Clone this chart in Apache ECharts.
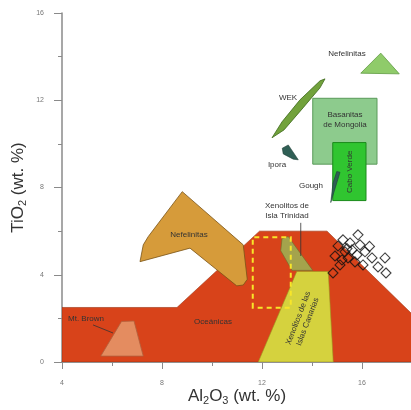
<!DOCTYPE html>
<html><head><meta charset="utf-8">
<script src="https://cdn.jsdelivr.net/npm/echarts@6/dist/echarts.min.js"></script>
<style>html,body{margin:0;padding:0;background:#fff}#c{width:411px;height:410px}</style>
</head><body><div id="c"></div>
<script>
// ---- data (data coordinates: Al2O3 wt.% , TiO2 wt.%) ----
const xTicks = [4, 8, 12, 16];
const yTicks = [0, 4, 8, 12, 16];
const oceanicPoly = [[4,0],[4,2.5],[8.6,2.5],[11.9,6],[14.6,6],[18,2.2],[18,0]];
const mtBrownPoly = [[5.55,0.27],[6.38,1.86],[6.88,1.88],[7.25,0.27]];
const nefelinitasLeftPoly = [[8.81,7.81],[11.25,5.37],[11.41,3.79],[11.25,3.53],[10.99,3.49],[9.12,5.22],[7.12,4.6],[7.25,5.37],[7.45,5.75]];
const canariasPoly = [[11.85,0],[13.39,4.15],[14.65,4.15],[14.85,0]];
const trinidadPoly = [[12.8,5.65],[13.05,5.75],[14.03,4.2],[13.2,4.2],[12.75,5.1]];
const dashedRect = [[11.63,2.49],[11.63,5.72],[13.15,5.72],[13.15,2.49]];
const nefelinitasRightPoly = [[15.95,13.24],[16.75,14.16],[17.49,13.21]];
const wekPoly = [[12.40,10.28],[12.80,11.01],[13.52,12.02],[14.32,12.89],[14.52,12.98],[14.32,12.57],[13.64,11.65],[12.88,10.64]];
const basanitasRect = [[14.03,9.07],[14.03,12.09],[16.6,12.09],[16.6,9.07]];
const caboVerdeRect = [[14.83,7.4],[14.83,10.06],[16.16,10.06],[16.16,7.4]];
const iporaPoly = [[12.81,9.80],[13.05,9.95],[13.45,9.27],[13.25,9.30],[12.85,9.54]];
const goughPoly = [[14.99,8.73],[15.12,8.70],[14.75,7.31],[14.84,8.2]];
const samplesX = [15.24,15.84,15.92,15.60,16.12,16.40,16.92,16.64,16.96,16.04,15.32,15.04,14.92,15.44,15.72,15.20,14.84,15.52,15.80,15.12,16.30,15.40];
const samplesY = [5.60,5.83,5.37,5.14,5.05,4.77,4.77,4.36,4.08,4.45,5.05,5.32,4.86,4.77,4.59,4.68,4.08,5.46,4.91,4.45,5.30,5.20];
const labelTexts = ['Oceánicas','Mt. Brown','Nefelinitas','Xenolitos de\nIsla Trinidad','Xenolitos de las\nIslas Canarias','Nefelinitas','WEK','Basanitas\nde Mongolia','Ipora','Gough','Cabo Verde'];
const labelX = [10.04, 4.96, 9.08, 13.0, 13.64, 15.4, 13.04, 15.32, 12.6, 13.96, 15.52];
const labelY = [1.83, 1.97, 5.83, 6.93, 1.93, 14.13, 12.11, 11.1, 9.04, 8.07, 8.72];
const leaderLines = [[[5.24,1.70],[6.04,1.33]], [[13.55,6.38],[13.55,4.86]]];

// ---- styles ----
const labelRot = [0,0,0,0,69,0,0,0,0,0,90];
const FONT = '"Liberation Sans", Arial, sans-serif';

function poly(points, fill, stroke, lw, z, dash) {
  return {
    type: 'custom', coordinateSystem: 'cartesian2d', silent: true, z: z, clip: true,
    data: [points[0]],
    renderItem: function (params, api) {
      return {
        type: 'polygon',
        shape: { points: points.map(p => api.coord(p)) },
        style: { fill: fill, stroke: stroke, lineWidth: lw, lineDash: dash || null }
      };
    }
  };
}

const series = [
  poly(oceanicPoly, '#D8431A', '#9a3010', 0.6, 1),
  poly(mtBrownPoly, '#E48C60', '#B0603C', 0.8, 2),
  poly(nefelinitasLeftPoly, '#D69B3A', '#7a5418', 0.8, 2),
  poly(canariasPoly, '#D5D23E', '#9a9620', 0.6, 2),
  poly(trinidadPoly, '#A4A34C', '#6e6c28', 0.6, 3),
  poly(dashedRect, 'rgba(0,0,0,0)', '#F7E62A', 2, 4, [5, 4]),
  poly(nefelinitasRightPoly, '#8FCB6A', '#5e9a40', 0.8, 2),
  poly(wekPoly, '#72A23C', '#3e6a1c', 0.8, 3),
  poly(basanitasRect, '#8DCB8D', '#5A9A5A', 1, 2),
  poly(caboVerdeRect, '#30C530', '#1a8a1a', 1, 3),
  poly(iporaPoly, '#2F5F55', '#1e4038', 0.6, 3),
  poly(goughPoly, '#2F5F55', '#1e4038', 0.6, 4),
  {
    type: 'custom', coordinateSystem: 'cartesian2d', silent: true, z: 5,
    data: leaderLines.map(l => l[0]),
    renderItem: function (params, api) {
      const l = leaderLines[params.dataIndex];
      const a = api.coord(l[0]), b = api.coord(l[1]);
      return { type: 'line', shape: { x1: a[0], y1: a[1], x2: b[0], y2: b[1] }, style: { stroke: '#333', lineWidth: 0.8 } };
    }
  },
  {
    type: 'scatter', z: 6, silent: true,
    data: samplesX.map((x, i) => [x, samplesY[i]]),
    symbol: 'diamond', symbolSize: 10,
    itemStyle: { color: 'rgba(0,0,0,0)', borderColor: '#111', borderWidth: 1.1 }
  },
  {
    type: 'custom', coordinateSystem: 'cartesian2d', silent: true, z: 7,
    data: labelX.map((x, i) => [x, labelY[i]]),
    renderItem: function (params, api) {
      const i = params.dataIndex;
      const p = api.coord([labelX[i], labelY[i]]);
      return {
        type: 'text', x: p[0], y: p[1], rotation: labelRot[i] * Math.PI / 180,
        style: { text: labelTexts[i], fill: '#333', font: '8px ' + FONT, align: 'center', verticalAlign: 'middle', lineHeight: 10 }
      };
    }
  }
];

const axisGray = '#8a8a8a';
const option = {
  animation: false,
  grid: { left: 62, top: 13, width: 350, height: 349, containLabel: false, outerBoundsMode: 'none' },
  xAxis: [{
    type: 'value', min: 4, max: 18, interval: 4,
    axisLine: { show: true, onZero: false, lineStyle: { color: axisGray, width: 1.5 } },
    axisTick: { show: true, length: 7, lineStyle: { color: axisGray } },
    minorTick: { show: true, splitNumber: 2, length: 4, lineStyle: { color: axisGray } },
    splitLine: { show: false },
    axisLabel: { color: '#777', fontSize: 7, margin: 18, fontFamily: FONT,
      formatter: v => xTicks.indexOf(v) >= 0 ? String(v) : '' },
    name: 'Al{s|2}O{s|3} (wt. %)', nameLocation: 'middle', nameGap: 24, nameMoveOverlap: false,
    nameTextStyle: { color: '#333', fontSize: 17, fontFamily: FONT,
      rich: { s: { fontSize: 11, fontFamily: FONT, color: '#333', padding: [9, 0, 0, 0] } } }
  }, {
    type: 'value', position: 'top', min: 4, max: 18,
    axisLine: { show: true, lineStyle: { color: axisGray, width: 1.5 } },
    axisTick: { show: false }, axisLabel: { show: false }, splitLine: { show: false }
  }],
  yAxis: {
    type: 'value', min: 0, max: 16, interval: 4,
    axisLine: { show: true, lineStyle: { color: axisGray, width: 1.5 } },
    axisTick: { show: true, length: 8, lineStyle: { color: axisGray } },
    minorTick: { show: true, splitNumber: 2, length: 4, lineStyle: { color: axisGray } },
    splitLine: { show: false },
    axisLabel: { color: '#777', fontSize: 7, margin: 18, fontFamily: FONT,
      formatter: v => yTicks.indexOf(v) >= 0 ? String(v) : '' },
    name: 'TiO{s|2} (wt. %)', nameLocation: 'middle', nameGap: 34, nameMoveOverlap: false,
    nameTextStyle: { color: '#333', fontSize: 17, fontFamily: FONT,
      rich: { s: { fontSize: 11, fontFamily: FONT, color: '#333', padding: [9, 0, 0, 0] } } }
  },
  series: series
};
const chart = echarts.init(document.getElementById('c'), null, { renderer: 'canvas' });
chart.setOption(option);
</script></body></html>
